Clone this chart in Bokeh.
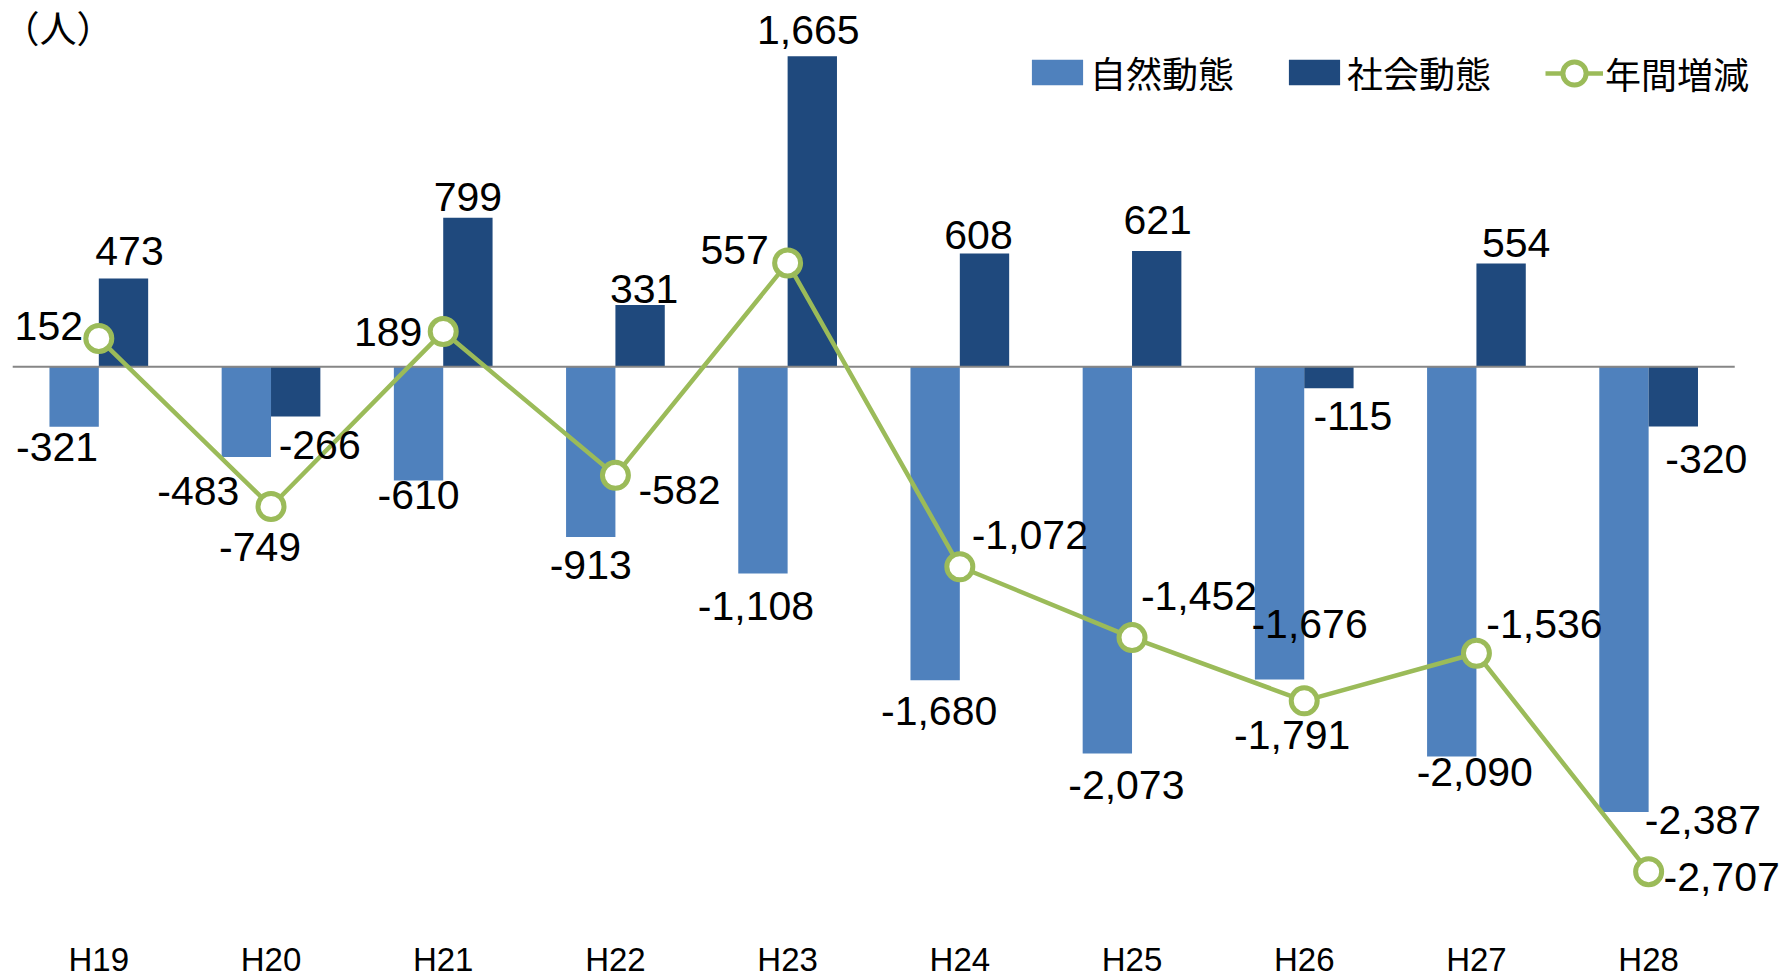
from bokeh.plotting import figure
from bokeh.models import ColumnDataSource, Range1d, FixedTicker, Legend, LegendItem, Label
from bokeh.core.properties import value
from bokeh.embed import file_html
from bokeh.resources import INLINE

# ---- data ----
categories = ["H19", "H20", "H21", "H22", "H23", "H24", "H25", "H26", "H27", "H28"]
natural = [-321, -483, -610, -913, -1108, -1680, -2073, -1676, -2090, -2387]
social = [473, -266, 799, 331, 1665, 608, 621, -115, 554, -320]
total = [152, -749, 189, -582, 557, -1072, -1452, -1791, -1536, -2707]
series_names = ["自然動態", "社会動態", "年間増減"]
unit_label = "（人）"

# ---- label placement (pixel offsets from each point; styling only) ----
nat_off = [(-17, 20), (-48, 34), (0, 14), (0, 28), (-7, 33), (4, 31), (19, 32), (30, -55), (23, 15), (79, 8)]
soc_off = [(6, -28), (24, 29), (0, -21), (4, -16), (-4, -26), (-6, -18), (1, -31), (24, 28), (15, -20), (33, 33)]
tot_off = [(-50, -12), (-11, 40), (-55, 0), (64, 15), (-53, -13), (70, -32), (67, -42), (-12, 34), (68, -29), (73, 5)]

LIGHT = "#4F81BD"
DARK = "#1F497D"
GREEN = "#9BBB59"
NUM_FONT = value("Liberation Sans")

n = len(categories)
idx = list(range(n))
bar_w = 0.2866
half = bar_w / 2

p = figure(width=1784, height=980,
           x_range=Range1d(-0.5709, 9.789), y_range=Range1d(-2958, 1964),
           output_backend="svg", toolbar_location=None,
           y_axis_location=None,
           min_border_left=0, min_border_right=0, min_border_top=0, min_border_bottom=0)
p.grid.visible = False
p.outline_line_color = None
p.background_fill_color = "white"
p.border_fill_color = "white"

src_nat = ColumnDataSource(dict(
    x=[i - half for i in idx], y=natural, t=[f"{v:,}" for v in natural],
    dx=[o[0] for o in nat_off], dy=[o[1] for o in nat_off]))
src_soc = ColumnDataSource(dict(
    x=[i + half for i in idx], y=social, t=[f"{v:,}" for v in social],
    dx=[o[0] for o in soc_off], dy=[o[1] for o in soc_off]))
src_tot = ColumnDataSource(dict(
    x=idx, y=total, t=[f"{v:,}" for v in total],
    dx=[o[0] for o in tot_off], dy=[o[1] for o in tot_off]))

r_nat = p.vbar(x="x", top="y", bottom=0, width=bar_w, source=src_nat,
               fill_color=LIGHT, line_color=None)
r_soc = p.vbar(x="x", top="y", bottom=0, width=bar_w, source=src_soc,
               fill_color=DARK, line_color=None)

# zero baseline across the category span
p.segment(x0=[-0.5], y0=[0], x1=[n - 0.5], y1=[0], line_color="#868686", line_width=2)

r_line = p.line(x="x", y="y", source=src_tot, line_color=GREEN, line_width=4.5)
r_pts = p.scatter(x="x", y="y", source=src_tot, marker="circle", size=26,
                  fill_color="white", line_color=GREEN, line_width=5)

for src in (src_nat, src_soc, src_tot):
    p.text(x="x", y="y", text="t", source=src, x_offset="dx", y_offset="dy",
           text_align="center", text_baseline="alphabetic",
           text_font=NUM_FONT, text_font_size="41px", text_color="black")

# x axis
p.xaxis.ticker = FixedTicker(ticks=idx)
p.xaxis.major_label_overrides = {i: c for i, c in enumerate(categories)}
p.xaxis.axis_line_color = None
p.xaxis.major_tick_line_color = None
p.xaxis.minor_tick_line_color = None
p.xaxis.major_tick_out = 0
p.xaxis.major_tick_in = 0
p.xaxis.major_label_standoff = 22
p.xaxis.major_label_text_font = "Liberation Sans"
p.xaxis.major_label_text_font_size = "33px"
p.xaxis.major_label_text_color = "black"

# unit label
p.add_layout(Label(x=2, y=919, x_units="screen", y_units="screen", text=unit_label,
                   text_font="Noto Sans CJK JP", text_font_size="37px",
                   text_baseline="top", text_align="left", text_color="black"))

legend_bars = Legend(items=[
    LegendItem(label=series_names[0], renderers=[r_nat]),
    LegendItem(label=series_names[1], renderers=[r_soc]),
], location=(1025, 820), orientation="horizontal",
    glyph_width=64, glyph_height=32, label_standoff=1, spacing=48,
    padding=0, margin=0, border_line_color=None, background_fill_alpha=0,
    label_text_font="Noto Sans CJK JP", label_text_font_size="36px",
    label_text_color="black")
p.add_layout(legend_bars)

legend_line = Legend(items=[
    LegendItem(label=series_names[2], renderers=[r_line, r_pts]),
], location=(1545, 815), orientation="horizontal",
    glyph_width=58, glyph_height=60, label_standoff=2,
    padding=0, margin=0, border_line_color=None, background_fill_alpha=0,
    label_text_font="Noto Sans CJK JP", label_text_font_size="36px",
    label_text_color="black")
p.add_layout(legend_line)

open("out.html", "w").write(file_html(p, INLINE))
